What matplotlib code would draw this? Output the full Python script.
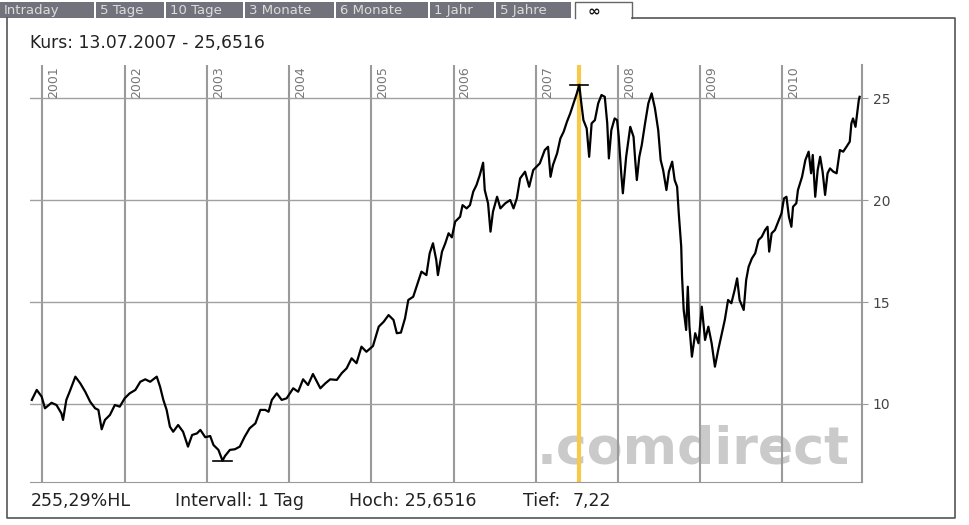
import matplotlib
matplotlib.use("Agg")
import matplotlib.pyplot as plt
from matplotlib.patches import Rectangle

jahre = [
    2000.87, 2000.93, 2000.99, 2001.03, 2001.11, 2001.17, 2001.23, 2001.25, 2001.29, 2001.33,
    2001.40, 2001.46, 2001.52, 2001.58, 2001.64, 2001.68, 2001.72, 2001.76, 2001.82, 2001.88,
    2001.94, 2002.00, 2002.06, 2002.13, 2002.19, 2002.25, 2002.31, 2002.39, 2002.43, 2002.47,
    2002.51, 2002.55, 2002.59, 2002.65, 2002.71, 2002.77, 2002.82, 2002.88, 2002.92, 2002.98,
    2003.04, 2003.08, 2003.14, 2003.19, 2003.22, 2003.28, 2003.34, 2003.40, 2003.46, 2003.52,
    2003.59, 2003.65, 2003.71, 2003.75, 2003.79, 2003.85, 2003.91, 2003.97, 2004.05, 2004.11,
    2004.17, 2004.23, 2004.29, 2004.38, 2004.44, 2004.50, 2004.58, 2004.64, 2004.70, 2004.76,
    2004.82, 2004.88, 2004.94, 2005.02, 2005.09, 2005.15, 2005.21, 2005.27, 2005.31, 2005.36,
    2005.41, 2005.45, 2005.51, 2005.57, 2005.61, 2005.67, 2005.71, 2005.75, 2005.79, 2005.81,
    2005.86, 2005.90, 2005.94, 2005.98, 2006.02, 2006.08, 2006.11, 2006.16, 2006.20, 2006.24,
    2006.28, 2006.32, 2006.36, 2006.38, 2006.42, 2006.45, 2006.48, 2006.53, 2006.57, 2006.63,
    2006.69, 2006.73, 2006.77, 2006.81, 2006.87, 2006.92, 2006.97, 2007.05, 2007.11, 2007.15,
    2007.18, 2007.21, 2007.26, 2007.30, 2007.34, 2007.38, 2007.42, 2007.46, 2007.50, 2007.53,
    2007.55, 2007.58, 2007.62, 2007.65, 2007.68, 2007.72, 2007.76, 2007.80, 2007.84, 2007.87,
    2007.89, 2007.92, 2007.96, 2007.99, 2008.01, 2008.04, 2008.06, 2008.10, 2008.15, 2008.19,
    2008.21, 2008.23, 2008.26, 2008.29, 2008.33, 2008.37, 2008.41, 2008.45, 2008.49, 2008.52,
    2008.55, 2008.59, 2008.62, 2008.66, 2008.69, 2008.72, 2008.74, 2008.77, 2008.78, 2008.80,
    2008.83, 2008.85, 2008.87, 2008.90, 2008.94, 2008.98, 2009.02, 2009.06, 2009.10, 2009.14,
    2009.18, 2009.22, 2009.26, 2009.30, 2009.34, 2009.38, 2009.42, 2009.45, 2009.48, 2009.53,
    2009.56, 2009.59, 2009.63, 2009.67, 2009.71, 2009.75, 2009.79, 2009.82, 2009.84, 2009.87,
    2009.91, 2009.95, 2009.99, 2010.02, 2010.05, 2010.08, 2010.11, 2010.13, 2010.17, 2010.19,
    2010.24, 2010.28, 2010.32, 2010.35, 2010.37, 2010.40, 2010.43, 2010.46, 2010.49, 2010.52,
    2010.55, 2010.58, 2010.62, 2010.66, 2010.70, 2010.74, 2010.78, 2010.82, 2010.84, 2010.86,
    2010.89, 2010.91, 2010.93, 2010.94,
]
kurs = [
    10.20, 10.69, 10.36, 9.79, 10.06, 9.95, 9.54, 9.22, 10.20, 10.60,
    11.34, 11.01, 10.60, 10.11, 9.79, 9.71, 8.76, 9.22, 9.46, 9.95,
    9.87, 10.28, 10.52, 10.69, 11.09, 11.21, 11.09, 11.34, 10.85, 10.20,
    9.71, 8.89, 8.64, 8.97, 8.64, 7.91, 8.48, 8.56, 8.73, 8.37,
    8.43, 7.99, 7.75, 7.22, 7.45, 7.75, 7.78, 7.91, 8.40, 8.81,
    9.05, 9.71, 9.71, 9.62, 10.20, 10.52, 10.20, 10.28, 10.77, 10.60,
    11.21, 10.93, 11.47, 10.77, 11.01, 11.21, 11.18, 11.51, 11.75, 12.24,
    12.00, 12.81, 12.56, 12.84, 13.79, 14.03, 14.36, 14.12, 13.47, 13.50,
    14.20, 15.10, 15.26, 16.00, 16.49, 16.32, 17.39, 17.88, 17.06, 16.32,
    17.47, 17.88, 18.37, 18.17, 18.94, 19.18, 19.75, 19.59, 19.75, 20.41,
    20.74, 21.23, 21.83, 20.49, 19.84, 18.45, 19.43, 20.16, 19.59, 19.84,
    20.00, 19.59, 20.08, 21.06, 21.39, 20.65, 21.47, 21.80, 22.45, 22.61,
    21.14, 21.72, 22.29, 23.02, 23.35, 23.84, 24.25, 24.74, 25.23, 25.65,
    24.90, 23.92, 23.51, 22.12, 23.76, 23.92, 24.74, 25.15, 25.06, 23.76,
    22.04, 23.43, 24.00, 23.92, 23.10, 21.31, 20.33, 22.12, 23.59, 23.10,
    21.96, 20.98, 22.12, 22.70, 23.76, 24.74, 25.23, 24.50, 23.43, 21.96,
    21.47, 20.49, 21.39, 21.88, 20.98, 20.65, 19.35, 17.71, 16.24, 14.61,
    13.63, 15.75, 13.79, 12.32, 13.47, 12.98, 14.77, 13.14, 13.79, 12.98,
    11.83, 12.65, 13.38, 14.12, 15.10, 14.94, 15.59, 16.16, 15.10, 14.61,
    16.08, 16.73, 17.14, 17.39, 18.04, 18.20, 18.53, 18.69, 17.47, 18.37,
    18.53, 18.94, 19.35, 20.08, 20.16, 19.18, 18.69, 19.67, 19.84, 20.49,
    21.14, 21.96, 22.37, 21.31, 22.21, 20.16, 21.47, 22.12, 21.39, 20.25,
    21.31, 21.55, 21.39, 21.31, 22.45, 22.37, 22.61, 22.86, 23.76, 24.00,
    23.59, 24.25, 24.90, 25.06,
]

year_lines = list(range(2001, 2011))
y_ticks = [10, 15, 20, 25]
tabs = ["Intraday", "5 Tage", "10 Tage", "3 Monate", "6 Monate", "1 Jahr", "5 Jahre"]

hoch = 25.6516
hoch_datum = 2007.53
hoch_text = "13.07.2007"
tief = 7.22
tief_datum = 2003.19

def de(v, n):
    return f"{v:.{n}f}".replace(".", ",")

fig = plt.figure(figsize=(9.69, 5.25), dpi=100)

# background layer in pixel coordinates: tabs, frame, texts
bg = fig.add_axes([0, 0, 1, 1])
bg.set_xlim(0, 969)
bg.set_ylim(525, 0)
bg.axis("off")

tab_edges = [0, 96, 166, 245, 336, 430, 496, 573]
for i, name in enumerate(tabs):
    x0, x1 = tab_edges[i], tab_edges[i + 1]
    bg.add_patch(Rectangle((x0, 2), x1 - x0 - 2, 16, facecolor="#72727c", edgecolor="none"))
    bg.text(x0 + 4, 10.5, name, fontsize=9.5, color="#dcdcdc", va="center", ha="left")
bg.plot([575, 575, 632, 632], [18, 2, 2, 18], color="#666666", lw=1)
bg.text(588, 11, "\u221e", fontsize=11, fontweight="bold", va="center", ha="left", color="#111")
bg.plot([632, 955, 955, 7.5, 7.5], [18, 18, 518, 518, 18], color="#555555", lw=1.2)

bg.text(30, 43, f"Kurs: {hoch_text} - {de(hoch, 4)}", fontsize=12.3, color="#222", va="center")

hl = (hoch / tief - 1) * 100
bg.text(31, 501, f"{de(hl, 2)}%HL", fontsize=12.5, color="#222", va="center")
bg.text(175, 501, "Intervall: 1 Tag", fontsize=12.5, color="#222", va="center")
bg.text(349, 501, f"Hoch: {de(hoch, 4)}", fontsize=12.5, color="#222", va="center")
bg.text(523, 501, "Tief:", fontsize=12.5, color="#222", va="center")
bg.text(573, 501, de(tief, 2), fontsize=12.5, color="#222", va="center")

# watermark
bg.text(537, 463, ".comdirect", fontsize=37.5, fontweight="bold", color="#cacaca",
        ha="left", va="baseline")

# chart
ax = fig.add_axes([30 / 969, (525 - 481.5) / 525, 831.5 / 969, 416.5 / 525])
ax.set_facecolor("none")
ax.set_xlim(2000.848, 2010.963)
ax.set_ylim(6.20, 26.62)

for yr in year_lines:
    ax.axvline(yr, color="#9a9a9a", lw=1.5, zorder=1)
    ax.text(yr + 0.06, 26.55, str(yr), rotation=90, va="top", ha="left",
            fontsize=9, color="#777777")
for v in y_ticks:
    ax.axhline(v, color="#a0a0a0", lw=1, zorder=1)

ax.axvline(hoch_datum, color="#f7c948", lw=3, zorder=2)
ax.plot(jahre, kurs, color="black", lw=1.6, zorder=3)

# Hoch / Tief marks
ax.plot([hoch_datum - 0.11, hoch_datum + 0.11], [hoch, hoch], color="black", lw=1.2, zorder=4)
ax.plot([tief_datum - 0.11, tief_datum + 0.11], [tief, tief], color="black", lw=1.2, zorder=4)

for s in ["top", "left"]:
    ax.spines[s].set_visible(False)
ax.spines["right"].set_color("#999999")
ax.spines["right"].set_linewidth(1.5)
ax.spines["bottom"].set_color("#999999")
ax.set_xticks([])
ax.yaxis.tick_right()
ax.set_yticks(y_ticks)
ax.tick_params(axis="y", length=4, color="#999999", labelsize=10, labelcolor="#444444", pad=4)

fig.savefig("out.png", dpi=100)
